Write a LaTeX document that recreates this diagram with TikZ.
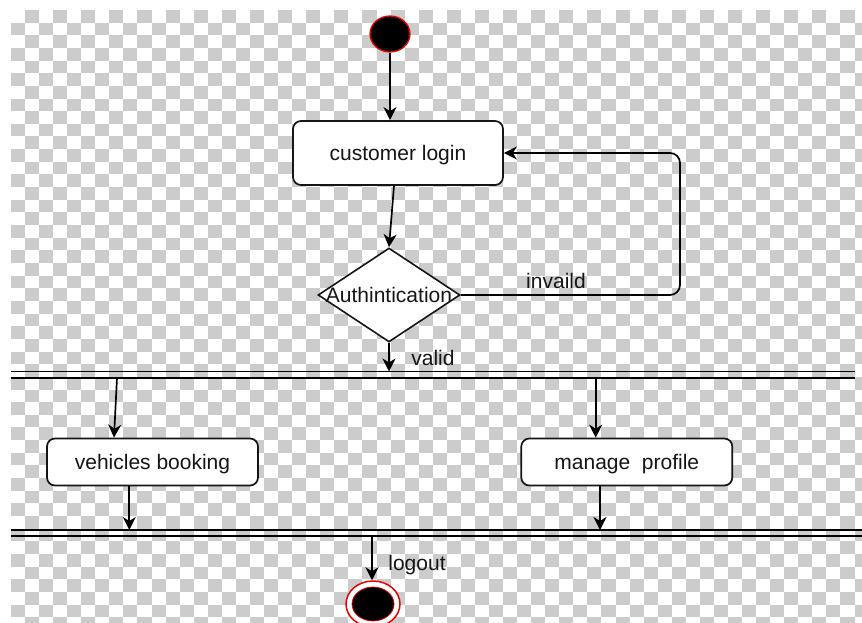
\documentclass[tikz,border=0pt]{standalone}
\usepackage{fontspec}
\setmainfont{Liberation Sans}
\usetikzlibrary{shapes.geometric,arrows.meta,calc}
\definecolor{checkgray}{HTML}{CCCCCC}
\definecolor{ink}{HTML}{151515}
\definecolor{ringred}{HTML}{F00000}

\begin{document}
\begin{tikzpicture}[x=1pt,y=-1pt,
  txt/.style={font=\fontsize{21}{25}\selectfont, text=ink, inner sep=0pt},
  actbox/.style={draw=ink, fill=white, rounded corners=8pt, line width=1.7pt,
    minimum width=211pt, minimum height=47pt, inner sep=0pt, txt,
    text height=15.5pt, text depth=0pt},
  decision/.style={diamond, aspect=1.5, draw=ink, fill=white, line width=1.6pt,
    minimum width=142pt, minimum height=94pt, inner sep=0pt},
  startdot/.style={ellipse, fill=black, draw=ringred, line width=1.3pt,
    minimum width=40pt, minimum height=36pt, inner sep=0pt},
  endring/.style={ellipse, fill=white, draw=ringred, line width=1.5pt,
    minimum width=54pt, minimum height=46pt, inner sep=0pt},
  enddot/.style={ellipse, fill=black, draw=ringred, line width=0.7pt,
    minimum width=42pt, minimum height=34pt, inner sep=0pt},
  syncbar/.style={minimum height=6pt, inner sep=0pt},
  barline/.style={draw=black, line width=1.6pt},
  flow/.style={draw=black, line width=1.7pt, -{Stealth[length=13pt,width=13pt,inset=4pt]}}
]
\useasboundingbox (0,0) rectangle (862,623);

% transparency checkerboard
\begin{scope}
  \clip (0,0) rectangle (862,623);
  \foreach \r in {0,...,48} {
    \pgfmathtruncatemacro\cs{mod(\r+1,2)}
    \pgfmathtruncatemacro\cn{\cs+2}
    \foreach \c in {\cs,\cn,...,60} {
      \fill[checkgray] ({10.94+14.06*\c},{10+12.65*\r}) rectangle ++(14.06,12.65);
    }
  }
\end{scope}

% nodes
\node[startdot] (start) at (390,34) {};
\node[actbox, minimum width=210pt, minimum height=64pt] (login) at (398,153) {customer login};
\node[decision] (auth) at (389,295) {};
\node[txt] (authtxt) at (auth) {Authintication};

\node[syncbar, minimum width=844pt] (bar1) at (433,374.7) {};
\node[syncbar, minimum width=851pt, minimum height=5.7pt] (bar2) at (436.5,532.8) {};

\node[actbox] (vb) at (152.5,462) {vehicles booking};
\node[actbox] (mp) at (626.8,462) {manage\ \ profile};

\node[endring] (endring) at (373,604) {};
\node[enddot] (enddot) at (endring) {};

% synchronisation bars
\draw[barline] (bar1.north west) -- (bar1.north east)
               (bar1.south west) -- (bar1.south east);
\draw[barline] (bar2.north west) -- (bar2.north east)
               (bar2.south west) -- (bar2.south east);

% points on the bars
\coordinate (loopturn) at (680,153);
\coordinate (fkA) at (117,377.7);
\coordinate (fkB) at (595.7,377.7);
\coordinate (fkC) at (129.3,530);
\coordinate (fkD) at (600,530);
\coordinate (fkE) at (372,535.7);

% connectors
\draw[flow] (start) -- (start |- login.north);
\draw[flow] ([xshift=-4pt]login.south) -- (auth.north);
\draw[flow, rounded corners=10pt] (auth.east) -| (loopturn) -- (login.east);
\draw[flow] (auth.south) -- (auth.south |- bar1.north);
\draw[flow] (fkA) -- ([xshift=-38.5pt]vb.north);
\draw[flow] (fkB) -- (fkB |- mp.north);
\draw[flow] (vb.south -| fkC) -- (fkC);
\draw[flow] (mp.south -| fkD) -- (fkD);
\draw[flow] (fkE) -- (fkE |- endring.north);

% guard labels
\node[txt] (invlbl) at (556,281) {invaild};
\node[txt] (validlbl) at (433,358) {valid};
\node[txt] (logoutlbl) at (417,565) {logout};
\end{tikzpicture}
\end{document}
